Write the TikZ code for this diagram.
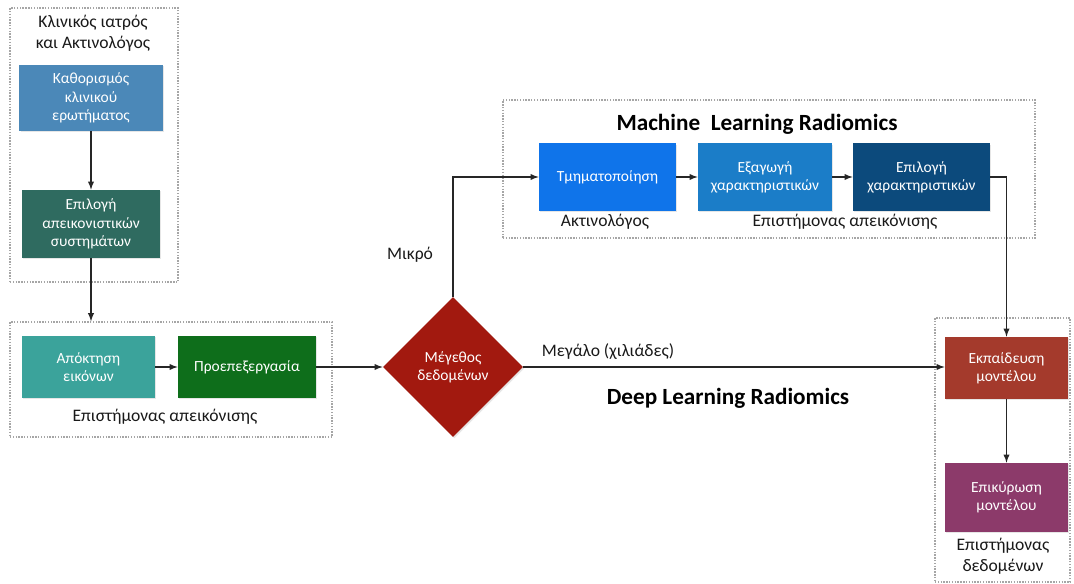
\documentclass[tikz,border=0pt]{standalone}
\usepackage{fontspec}
\setmainfont{Carlito}
\usetikzlibrary{shapes.geometric,shadows}

\definecolor{questblue}{RGB}{75,136,184}
\definecolor{modalteal}{RGB}{47,107,96}
\definecolor{acqteal}{RGB}{59,163,155}
\definecolor{prepgreen}{RGB}{14,110,27}
\definecolor{sizered}{RGB}{162,25,15}
\definecolor{segblue}{RGB}{15,116,234}
\definecolor{extblue}{RGB}{27,125,200}
\definecolor{selnavy}{RGB}{12,74,124}
\definecolor{trainred}{RGB}{164,58,44}
\definecolor{validpurple}{RGB}{140,58,106}

\tikzset{
  stage/.style={text=white, align=center, inner sep=2pt,
    font=\fontsize{11}{13}\selectfont,
    drop shadow={opacity=0.2, shadow xshift=1pt, shadow yshift=-1pt}},
  group/.style={draw=gray!70, densely dotted, line width=1pt, inner sep=0pt},
  flow/.style={->, >=latex, draw=black!85, line width=1pt},
  role/.style={align=center, text=black!90, font=\fontsize{12.5}{15}\selectfont},
  title/.style={font=\fontsize{16.5}{19}\bfseries\selectfont}
}

\begin{document}
\begin{tikzpicture}[x=0.025cm,y=-0.025cm]
\useasboundingbox (0,0) rectangle (1074,584);

% dotted frames
\node[group, minimum width=4.2cm, minimum height=6.85cm] (clingrp) at (94,145) {};
\node[group, minimum width=8.05cm, minimum height=2.875cm] (imggrp) at (171,379.5) {};
\node[group, minimum width=13.3cm, minimum height=3.45cm] (mlgrp) at (769,169) {};
\node[group, minimum width=3.375cm, minimum height=6.6cm] (datagrp) at (1002.5,450) {};

% stages
\node[stage, fill=questblue, minimum width=3.575cm, minimum height=1.65cm] (quest) at (91,98) {Καθορισμός\\κλινικού\\ερωτήματος};
\node[stage, fill=modalteal, minimum width=3.45cm, minimum height=1.7cm] (modal) at (91,224) {Επιλογή\\απεικονιστικών\\συστημάτων};
\node[stage, fill=acqteal, minimum width=3.325cm, minimum height=1.55cm] (acq) at (88.5,367) {Απόκτηση\\εικόνων};
\node[stage, fill=prepgreen, minimum width=3.45cm, minimum height=1.55cm] (prep) at (247,367) {Προεπεξεργασία};
\node[stage, diamond, aspect=1, fill=sizered, minimum width=3.5cm, minimum height=3.5cm, inner sep=0pt] (size) at (453,367) {Μέγεθος\\δεδομένων};
\node[stage, fill=segblue, minimum width=3.425cm, minimum height=1.675cm] (seg) at (607.5,177) {Τμηματοποίηση};
\node[stage, fill=extblue, minimum width=3.35cm, minimum height=1.675cm] (ext) at (765,177) {Εξαγωγή\\χαρακτηριστικών};
\node[stage, fill=selnavy, minimum width=3.425cm, minimum height=1.675cm] (sel) at (921.5,177) {Επιλογή\\χαρακτηριστικών};
\node[stage, fill=trainred, minimum width=3.075cm, minimum height=1.55cm] (train) at (1006.5,368) {Εκπαίδευση\\μοντέλου};
\node[stage, fill=validpurple, minimum width=3.075cm, minimum height=1.725cm] (valid) at (1006.5,497.5) {Επικύρωση\\μοντέλου};

% texts
\node[role] (clinrole) at (93,33) {Κλινικός ιατρός\\και Ακτινολόγος};
\node[role] (imgrole) at (165,417) {Επιστήμονας απεικόνισης};
\node[role] (small) at (410,255) {Μικρό};
\node[role] (large) at (608,352) {Μεγάλο (χιλιάδες)};
\node[title] (mltitle) at (757,124) {Machine\ \ Learning Radiomics};
\node[title] (dltitle) at (728,398) {Deep Learning Radiomics};
\node[role] (radrole) at (605,222) {Ακτινολόγος};
\node[role] (mlrole) at (845,222) {Επιστήμονας απεικόνισης};
\node[role] (datarole) at (1003,556) {Επιστήμονας\\δεδομένων};

% connectors
\draw[flow] (quest.south) -- (modal.north);
\draw[flow] (modal.south) -- (modal.south |- imggrp.north);
\draw[flow] (acq) -- (prep);
\draw[flow] (prep.east) -- (size.west);
\draw[flow] (size.north) |- (seg.west);
\draw[flow] (seg) -- (ext);
\draw[flow] (ext) -- (sel);
\draw[flow] (sel.east) -| (train.north);
\draw[flow] (size.east) -- (size.east -| train.west);
\draw[flow] (train) -- (valid);
\end{tikzpicture}
\end{document}
